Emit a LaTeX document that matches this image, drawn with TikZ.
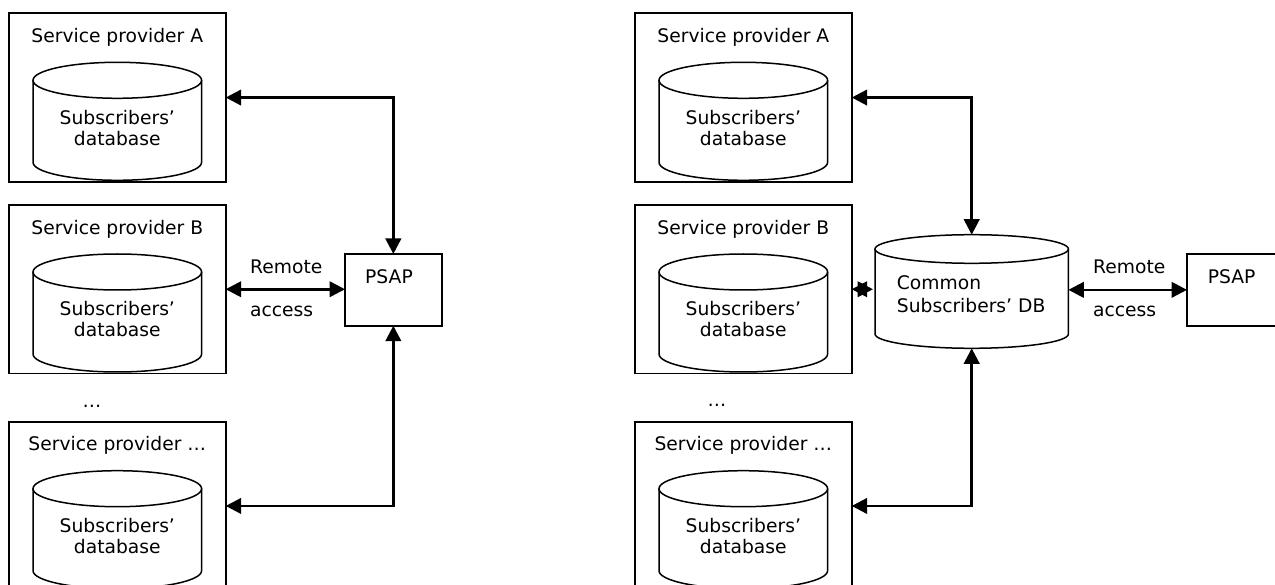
\documentclass[tikz,border=0pt]{standalone}
\usepackage{fontspec}
\setmainfont{DejaVu Sans}
\usetikzlibrary{arrows.meta}

\tikzset{
  spbox/.style={draw, line width=1.8pt, minimum width=216.7pt, minimum height=168.5pt,
    anchor=north west, inner sep=0pt, outer sep=0pt},
  psapbox/.style={draw, line width=1.8pt, minimum width=96.7pt, minimum height=71.7pt,
    anchor=north west, inner sep=0pt, outer sep=0pt},
  dbarea/.style={inner sep=0pt, outer sep=0pt, minimum width=193.4pt, minimum height=113.6pt},
  dbline/.style={line width=1.5pt},
  link/.style={line width=2.6pt,
    {Triangle[length=15.5pt,width=15.5pt]}-{Triangle[length=15.5pt,width=15.5pt]}},
  lbl/.style={font=\fontsize{18.7}{21}\selectfont, inner sep=0pt},
}

% service provider box with its subscribers' database cylinder
% #1 node name, #2 x, #3 y (top left corner), #4 provider letter
\newcommand\provider[4]{%
  \node[spbox] (#1) at (#2,#3) {};
  \node[lbl] (#1-title) at ({#2+108.3},{#3+24}) {Service provider #4};
  \draw[dbline] ({#2+24},{#3+67}) -- ({#2+24},{#3+149})
    arc[start angle=180, end angle=360, x radius=84.3pt, y radius=18pt]
    -- ({#2+192.6},{#3+67});
  \draw[dbline] ({#2+108.3},{#3+67}) ellipse[x radius=84.3pt, y radius=18pt];
  \node[lbl] (#1-db1) at ({#2+108.3},{#3+104}) {Subscribers’};
  \node[lbl] (#1-db2) at ({#2+108.3},{#3+125}) {database};
}

\begin{document}
\begin{tikzpicture}[x=1pt, y=-1pt]
  \useasboundingbox (0,0) rectangle (1275,585);

  % ---- separate databases, remote access from the PSAP ----
  \provider{spA}{9}{13.3}{A}
  \provider{spB}{9}{205}{B}
  \provider{spC}{9}{421.7}{…}
  \node[lbl] (dotsL) at (92,406) {…};

  \node[psapbox] (psap) at (345,254) {};
  \node[lbl] (psap-t) at (389,277) {PSAP};

  \draw[link] (spA.east) -| (psap.north);
  \draw[link] (spB.east) -- (spB.east -| psap.west);
  \draw[link] (spC.east) -| (psap.south);
  \node[lbl, anchor=west] (remL) at (250,266.7) {Remote};
  \node[lbl, anchor=west] (accL) at (250,311.7) {access};

  % ---- common subscribers' database ----
  \provider{spA2}{635}{13.3}{A}
  \provider{spB2}{635}{205}{B}
  \provider{spC2}{635}{421.7}{…}
  \node[lbl] (dotsR) at (717,405) {…};

  \node[dbarea] (cdb) at (971.7,291.5) {};
  \draw[dbline] (875,249) -- (875,334)
    arc[start angle=180, end angle=360, x radius=96.7pt, y radius=14.3pt]
    -- (1068.4,249);
  \draw[dbline] (971.7,249) ellipse[x radius=96.7pt, y radius=14.3pt];
  \node[lbl, anchor=west] (cdb-t1) at (896.7,283) {Common};
  \node[lbl, anchor=west] (cdb-t2) at (896.7,306) {Subscribers’ DB};

  \node[psapbox] (psap2) at (1187,254) {};
  \node[lbl] (psap2-t) at (1231.7,277) {PSAP};

  \draw[link] (spA2.east) -| (cdb.north);
  \draw[link] (spB2.east) -- ([xshift=-2pt]spB2.east -| cdb.west);
  \draw[link] (spC2.east) -| (cdb.south);
  \draw[link] (cdb.east |- psap2.west) -- (psap2.west);
  \node[lbl, anchor=west] (remR) at (1093,266.7) {Remote};
  \node[lbl, anchor=west] (accR) at (1093,311.7) {access};
\end{tikzpicture}
\end{document}
